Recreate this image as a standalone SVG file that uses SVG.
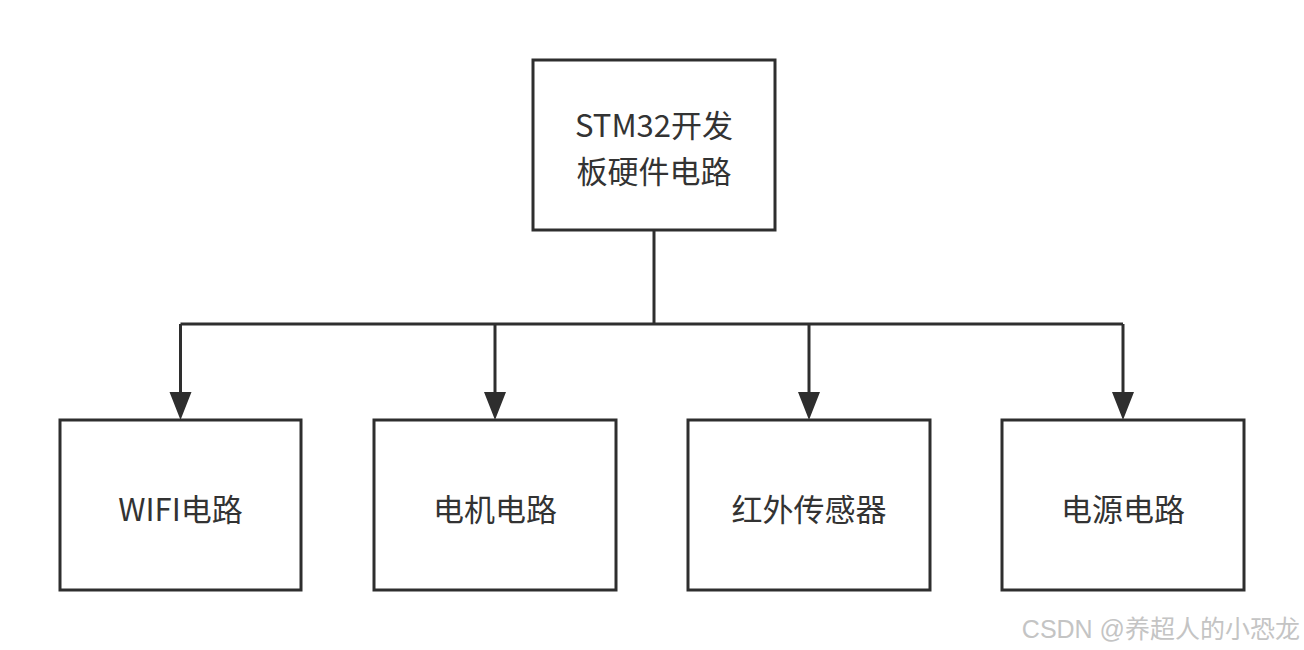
<svg xmlns="http://www.w3.org/2000/svg" width="1304" height="650" viewBox="0 0 1304 650">
<style>
.box{fill:#fff;stroke:#2e2e2e;stroke-width:3}
.lbl{font-family:"Noto Sans CJK SC","Noto Sans",sans-serif;font-size:31px;fill:#333;text-anchor:middle;dominant-baseline:central}
.edge{fill:none;stroke:#2e2e2e;stroke-width:3}
.head{fill:#2e2e2e}
.wm{font-family:"Liberation Sans","Noto Sans CJK SC",sans-serif;font-size:25px;fill:#c4c4c4}
</style>
<rect width="1304" height="650" fill="#fff"/>
<g id="connectors">
<path class="edge" d="M654,230 V324"/>
<path class="edge" d="M180.5,324 H1123"/>
<path class="edge" d="M180.5,324 V394"/>
<path class="edge" d="M495,324 V394"/>
<path class="edge" d="M809,324 V394"/>
<path class="edge" d="M1123,324 V394"/>
<path class="head" d="M169.5,392 H191.5 L180.5,420 Z M484,392 H506 L495,420 Z M798,392 H820 L809,420 Z M1112,392 H1134 L1123,420 Z"/>
</g>
<g id="root">
<rect class="box" x="533" y="60" width="242" height="170"/>
<text class="lbl" x="654" y="123">STM32开发</text>
<text class="lbl" x="654" y="169">板硬件电路</text>
</g>
<g id="wifi">
<rect class="box" x="60" y="420" width="241" height="170"/>
<text class="lbl" x="180.5" y="507">WIFI电路</text>
</g>
<g id="motor">
<rect class="box" x="374" y="420" width="242" height="170"/>
<text class="lbl" x="495" y="507">电机电路</text>
</g>
<g id="ir">
<rect class="box" x="688" y="420" width="242" height="170"/>
<text class="lbl" x="809" y="507">红外传感器</text>
</g>
<g id="power">
<rect class="box" x="1002" y="420" width="242" height="170"/>
<text class="lbl" x="1123" y="507">电源电路</text>
</g>
<text class="wm" x="1300" y="638" text-anchor="end">CSDN @养超人的小恐龙</text>
</svg>
